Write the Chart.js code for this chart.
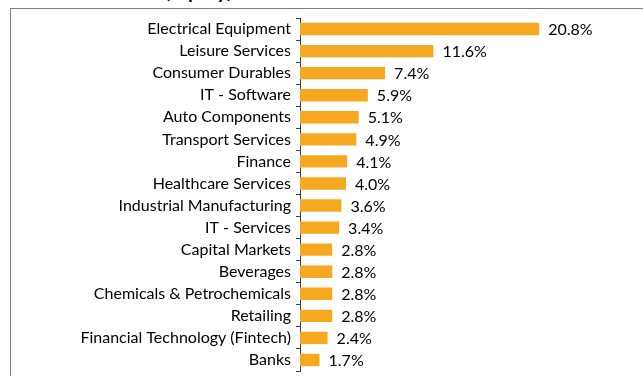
<!DOCTYPE html>
<html>
<head>
<meta charset="utf-8">
<script src="https://cdn.jsdelivr.net/npm/chart.js@4"></script>
<style>
  html, body { margin: 0; padding: 0; background: #fff; overflow: hidden; }
  #wrap { position: relative; width: 643px; height: 376px; overflow: hidden; }
  #title {
    position: absolute; left: 8px; top: -22px;
    font: bold 20px Lato, sans-serif; color: #000; white-space: nowrap;
  }
  #frame {
    position: absolute; left: 10px; top: 8px; width: 700px; height: 400px;
    border: 1px solid #7f7f7f; box-sizing: border-box;
  }
  #sectorChart { position: absolute; left: 0; top: 0; }
</style>
</head>
<body>
<div id="wrap">
  <div id="title">Sector Allocation (Equity)</div>
  <div id="frame"></div>
  <canvas id="sectorChart" width="643" height="376"></canvas>
</div>
<script>
// 섹터별 비중 (%)
const sectors = [
  'Electrical Equipment', 'Leisure Services', 'Consumer Durables', 'IT - Software',
  'Auto Components', 'Transport Services', 'Finance', 'Healthcare Services',
  'Industrial Manufacturing', 'IT - Services', 'Capital Markets', 'Beverages',
  'Chemicals & Petrochemicals', 'Retailing', 'Financial Technology (Fintech)', 'Banks',
];
const weights = [20.8, 11.6, 7.4, 5.9, 5.1, 4.9, 4.1, 4.0, 3.6, 3.4, 2.8, 2.8, 2.8, 2.8, 2.4, 1.7];

const BAR_COLOR = '#f6a821';
const LABEL_FONT = { family: 'Lato, sans-serif', size: 16 };

/* ── 막대 끝 값 라벨 ── */
const valueLabelPlugin = {
  id: 'valueLabel',
  afterDatasetsDraw(chart) {
    const { ctx } = chart;
    const meta = chart.getDatasetMeta(0);
    ctx.save();
    ctx.font = `${LABEL_FONT.size}px ${LABEL_FONT.family}`;
    ctx.fillStyle = '#000';
    ctx.textAlign = 'left';
    ctx.textBaseline = 'middle';
    meta.data.forEach((bar, i) => {
      ctx.fillText(weights[i].toFixed(1) + '%', bar.x + 9, bar.y + 1);
    });
    ctx.restore();
  },
};

new Chart(document.getElementById('sectorChart'), {
  type: 'bar',
  data: {
    labels: sectors,
    datasets: [{
      data: weights,
      backgroundColor: BAR_COLOR,
      borderWidth: 0,
      barPercentage: 0.56,
      categoryPercentage: 1,
    }],
  },
  plugins: [valueLabelPlugin],
  options: {
    indexAxis: 'y',
    responsive: false,
    animation: false,
    devicePixelRatio: 1,
    layout: { padding: { top: 18, bottom: 5, left: 0, right: 21 } },
    plugins: { legend: { display: false }, tooltip: { enabled: false } },
    scales: {
      x: { display: false, min: 0, max: 28 },
      y: {
        // 축 폭 고정, 라벨 높이로 인한 상하 여백 제거
        afterFit(scale) {
          scale.width = 300;
          scale.paddingTop = 0;
          scale.paddingBottom = 0;
        },
        border: { color: '#404040', width: 1 },
        grid: { drawOnChartArea: false, tickLength: 4, color: '#404040', offset: true },
        ticks: { color: '#000', font: LABEL_FONT, padding: 5, autoSkip: false },
      },
    },
  },
});
</script>
</body>
</html>
